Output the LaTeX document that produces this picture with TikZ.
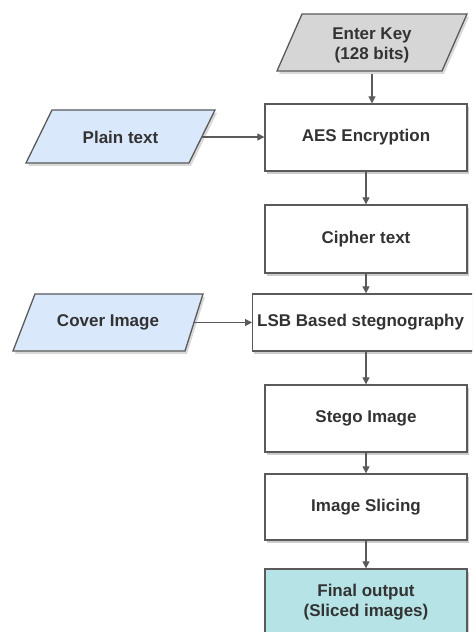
\documentclass[tikz,border=0pt]{standalone}
\usepackage{fontspec}
\setmainfont{Liberation Sans}
\usetikzlibrary{arrows.meta,shadows}
\definecolor{strk}{HTML}{5A5A5A}
\definecolor{txt}{HTML}{333333}
\definecolor{keyfill}{HTML}{D6D6D6}
\definecolor{bluefill}{HTML}{DAE8FC}
\definecolor{tealfill}{HTML}{B6E3E6}
\tikzset{
  lbl/.style={font=\fontsize{17}{20}\selectfont\bfseries, text=txt, align=center, inner sep=0pt},
  procbox/.style={draw=strk, line width=1.3pt, fill=white, lbl,
    drop shadow={shadow xshift=1.5pt, shadow yshift=-3pt, opacity=0.2, fill=black}},
  shapeln/.style={draw=strk, line width=1.3pt},
  shad/.style={fill=black, opacity=0.15},
  conn/.style={draw=strk, line width=1.2pt, -{Triangle[length=7pt,width=7pt]}}
}
\begin{document}
\begin{tikzpicture}[x=1pt,y=1pt]
\useasboundingbox (0,0) rectangle (472,632);
\clip (0,0) rectangle (472,632);
\fill[white] (0,0) rectangle (472,632);

% parallelograms (shadows, then shapes)
\fill[shad] (279,558) -- (444,558) -- (469,615) -- (304,615) -- cycle;
\fill[shad] (28,466) -- (191,466) -- (217,519) -- (54,519) -- cycle;
\fill[shad] (15,278) -- (187,278) -- (205,335) -- (37,335) -- cycle;
\filldraw[shapeln, fill=keyfill] (277,561) -- (442,561) -- (467,618) -- (302,618) -- cycle;
\filldraw[shapeln, fill=bluefill] (26,469) -- (189,469) -- (215,522) -- (52,522) -- cycle;
\filldraw[shapeln, fill=bluefill] (13,281) -- (185,281) -- (203,338) -- (35,338) -- cycle;

\node[lbl, minimum width=165pt, minimum height=57pt] (key) at (372,587) {Enter Key\\(128 bits)};
\node[lbl, minimum width=163pt, minimum height=53pt] (plain) at (120.5,495) {Plain text};
\node[lbl, minimum width=170pt, minimum height=57pt] (cover) at (108,309.5) {Cover Image};

% process boxes
\node[procbox, minimum width=202pt, minimum height=67pt] (aes) at (366,494.5) {AES Encryption};
\node[procbox, minimum width=202pt, minimum height=68pt] (cipher) at (366,393) {Cipher text};
\node[procbox, minimum width=228pt, minimum height=57pt, anchor=west] (lsb) at (252,309.5) {};
\node[lbl, anchor=west] (lsbtxt) at (257,309.5) {LSB Based stegnography};
\node[procbox, minimum width=202pt, minimum height=67pt] (stego) at (366,213.5) {Stego Image};
\node[procbox, minimum width=202pt, minimum height=66pt] (slice) at (366,125) {Image Slicing};
\node[procbox, fill=tealfill, minimum width=202pt, minimum height=76pt] (final) at (366,25) {};
\node[lbl] (finaltxt) at (366,30) {Final output\\(Sliced images)};

% connectors
\draw[conn] (key.south) -- (key.south |- aes.north);
\draw[conn] (plain.east) -- (plain.east -| aes.west);
\draw[conn] (aes.south) -- (cipher.north);
\draw[conn] (cipher.south) -- (cipher.south |- lsb.north);
\draw[conn] (cover.east) -- (cover.east -| lsb.west);
\draw[conn] (stego.north |- lsb.south) -- (stego.north);
\draw[conn] (stego.south) -- (slice.north);
\draw[conn] (slice.south) -- (final.north);
\end{tikzpicture}
\end{document}
